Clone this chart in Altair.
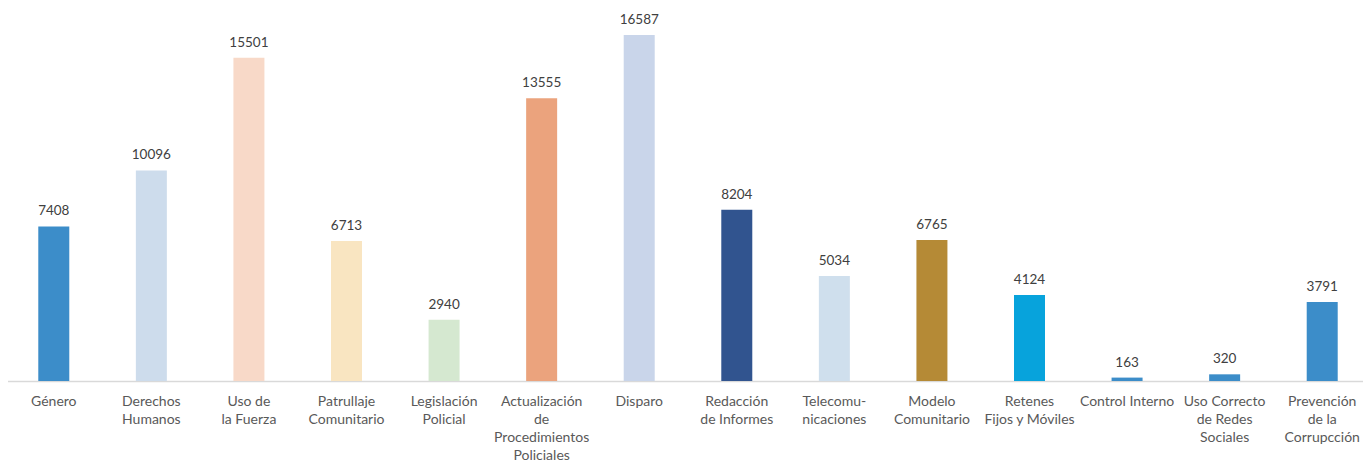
import altair as alt
import pandas as pd

categories = [
    "Género", "Derechos\nHumanos", "Uso de\nla Fuerza", "Patrullaje\nComunitario",
    "Legislación\nPolicial", "Actualización\nde\nProcedimientos\nPoliciales", "Disparo",
    "Redacción\nde Informes", "Telecomu-\nnicaciones", "Modelo\nComunitario",
    "Retenes\nFijos y Móviles", "Control Interno", "Uso Correcto\nde Redes\nSociales",
    "Prevención\nde la\nCorrupcción",
]
values = [7408, 10096, 15501, 6713, 2940, 13555, 16587, 8204, 5034, 6765, 4124, 163, 320, 3791]
colors = ["#3c8dc9", "#cddcec", "#f8d9c8", "#f9e5c1", "#d5e8d0", "#eba37d", "#c9d5ea",
          "#31548f", "#cfdfed", "#b58a36", "#07a3dc", "#3c8dc9", "#3c8dc9", "#3c8dc9"]

df = pd.DataFrame({"cat": categories, "val": values, "color": colors})

FONT = "Lato"

x = alt.X("cat:N", sort=categories,
          scale=alt.Scale(paddingInner=0, paddingOuter=0),
          axis=alt.Axis(title=None, labelAngle=0, ticks=False, domainColor="#d9d9d9",
                        domainWidth=1.5, labelColor="#595959", labelFont=FONT,
                        labelFontSize=14, labelLineHeight=18, labelPadding=13,
                        labelBaseline="top",
                        labelExpr="split(datum.label, '\\n')", labelLimit=200))
y = alt.Y("val:Q", scale=alt.Scale(domain=[0, 17881], nice=False), axis=None)

bars = alt.Chart(df).mark_bar(size=31).encode(
    x=x, y=y, color=alt.Color("color:N", scale=None)
)
text = alt.Chart(df).mark_text(baseline="alphabetic", dy=-11, font=FONT, fontSize=13.5,
                               color="#404040").encode(
    x=alt.X("cat:N", sort=categories), y="val:Q", text="val:Q"
)

chart = (bars + text).properties(
    width=1366, height=373,
    padding={"left": -3, "top": 0, "right": -8, "bottom": 82},
    autosize=alt.AutoSizeParams(type="none")
).configure_view(stroke=None)

chart.save("out.html", embed_options={"renderer": "svg", "actions": False})
